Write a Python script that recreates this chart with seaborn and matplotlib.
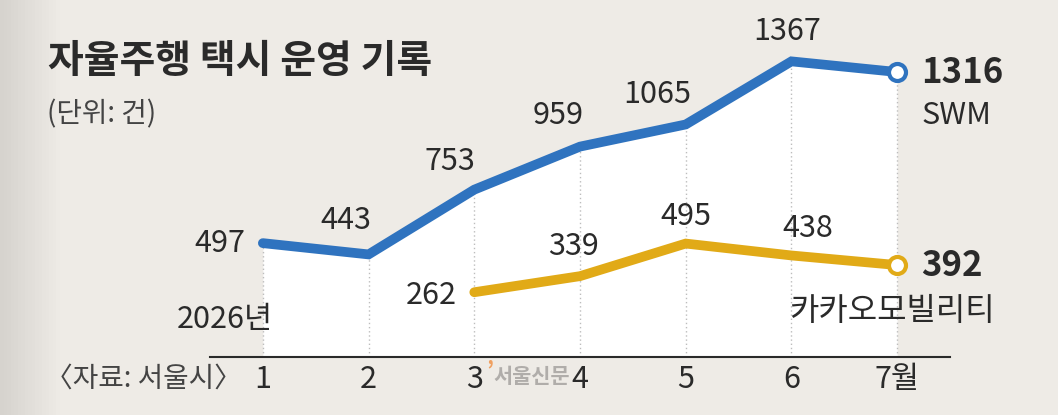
import numpy as np
import pandas as pd
import seaborn as sns
import matplotlib.pyplot as plt

months = [1, 2, 3, 4, 5, 6, 7]
month_labels = ['1', '2', '3', '4', '5', '6', '7월']
swm = [497, 443, 753, 959, 1065, 1367, 1316]
kakao_months = [3, 4, 5, 6, 7]
kakao = [262, 339, 495, 438, 392]

sns.set_style('white')
plt.rcParams['font.family'] = ['Noto Sans CJK KR', 'DejaVu Sans']

BG = '#eeebe6'
BLUE = '#2f73bf'
GOLD = '#e1aa17'
INK = '#2a2a2a'

fig = plt.figure(figsize=(10.58, 4.15), dpi=100, facecolor=BG)

# soft grey shading on the far left edge
bg = fig.add_axes([0, 0, 1, 1], zorder=-1)
grad = np.linspace(0, 1, 300)
grad = np.clip(grad * 18, 0, 1)[None, :]
bg.imshow(grad, aspect='auto', cmap=plt.matplotlib.colors.LinearSegmentedColormap.from_list('g', ['#d6d3ce', BG]),
          extent=[0, 1, 0, 1])
bg.set_axis_off()

ax = fig.add_axes([210 / 1058, (415 - 357) / 415, 740 / 1058, (357 - 20) / 415])
ax.set_facecolor('none')
ymin = -48
ax.set_xlim(0.5, 7.5)
ax.set_ylim(ymin, 1565)

df_swm = pd.DataFrame({'month': months, 'count': swm})
df_kakao = pd.DataFrame({'month': kakao_months, 'count': kakao})

ax.fill_between(months, swm, ymin, color='white', zorder=1, lw=0)
ax.vlines(months, ymin, swm, colors='#bdbdbd', linestyles=(0, (1, 2)), lw=1, zorder=2)

sns.lineplot(data=df_swm, x='month', y='count', ax=ax, color=BLUE, lw=7, zorder=4,
             solid_capstyle='round', solid_joinstyle='miter')
sns.lineplot(data=df_kakao, x='month', y='count', ax=ax, color=GOLD, lw=7, zorder=4,
             solid_capstyle='round', solid_joinstyle='miter')
ax.scatter([months[-1]], [swm[-1]], s=150, facecolor='white', edgecolor=BLUE, lw=3, zorder=5)
ax.scatter([kakao_months[-1]], [kakao[-1]], s=150, facecolor='white', edgecolor=GOLD, lw=3, zorder=5)

# value labels (offsets in pixels)
swm_off = [(-18, 0, 'right'), (-23, 34, 'center'), (-24, 28, 'center'), (-22, 31, 'center'),
           (-28, 30, 'center'), (-4, 30, 'center')]
for m, v, (dx, dy, ha) in zip(months[:-1], swm[:-1], swm_off):
    ax.annotate(str(v), (m, v), xytext=(dx, dy), textcoords='offset pixels', ha=ha, va='center',
                fontsize=22, color=INK, zorder=6)
kakao_off = [(-18, -3, 'right'), (-7, 30, 'center'), (0, 27, 'center'), (16, 27, 'center')]
for m, v, (dx, dy, ha) in zip(kakao_months[:-1], kakao[:-1], kakao_off):
    ax.annotate(str(v), (m, v), xytext=(dx, dy), textcoords='offset pixels', ha=ha, va='center',
                fontsize=22, color=INK, zorder=6)

ax.annotate(str(swm[-1]), (months[-1], swm[-1]), xytext=(24, 0), textcoords='offset pixels',
            ha='left', va='center', fontsize=25, fontweight='bold', color=INK)
ax.annotate('SWM', (months[-1], swm[-1]), xytext=(24, -43), textcoords='offset pixels',
            ha='left', va='center', fontsize=22, color=INK)
ax.annotate(str(kakao[-1]), (kakao_months[-1], kakao[-1]), xytext=(24, 0), textcoords='offset pixels',
            ha='left', va='center', fontsize=25, fontweight='bold', color=INK)
ax.annotate('카카오모빌리티', (kakao_months[-1], kakao[-1]), xytext=(98, -46), textcoords='offset pixels',
            ha='right', va='center', fontsize=23, color=INK)
ax.annotate('2026년', (months[0], ymin), xytext=(10, 38), textcoords='offset pixels',
            ha='right', va='center', fontsize=22, color=INK)

for s in ['top', 'right', 'left']:
    ax.spines[s].set_visible(False)
ax.spines['bottom'].set_color(INK)
ax.spines['bottom'].set_linewidth(1.5)
ax.set_xticks(months)
ax.set_xticklabels(month_labels)
ax.set_yticks([])
ax.tick_params(axis='x', direction='in', length=7, width=1.5, color=INK, pad=5,
               labelsize=22, labelcolor=INK)
ax.set_xlabel('')
ax.set_ylabel('')

fig.text(48 / 1058, 1 - 62 / 415, '자율주행 택시 운영 기록', fontsize=28, fontweight='bold',
         color=INK, va='center', ha='left')
fig.text(47 / 1058, 1 - 114 / 415, '(단위: 건)', fontsize=20, color='#444444', va='center', ha='left')
fig.text(45 / 1058, 1 - 379 / 415, '〈자료: 서울시〉', fontsize=20, color='#444444', va='center', ha='left')
fig.text(486 / 1058, 1 - 371 / 415, '’', fontsize=16, fontweight='bold', color='#f0a060',
         va='center', ha='left')
fig.text(493 / 1058, 1 - 376 / 415, '서울신문', fontsize=15, fontweight='bold', color='#b0adaa',
         va='center', ha='left')

fig.savefig('out.png', dpi=100, facecolor=BG)
